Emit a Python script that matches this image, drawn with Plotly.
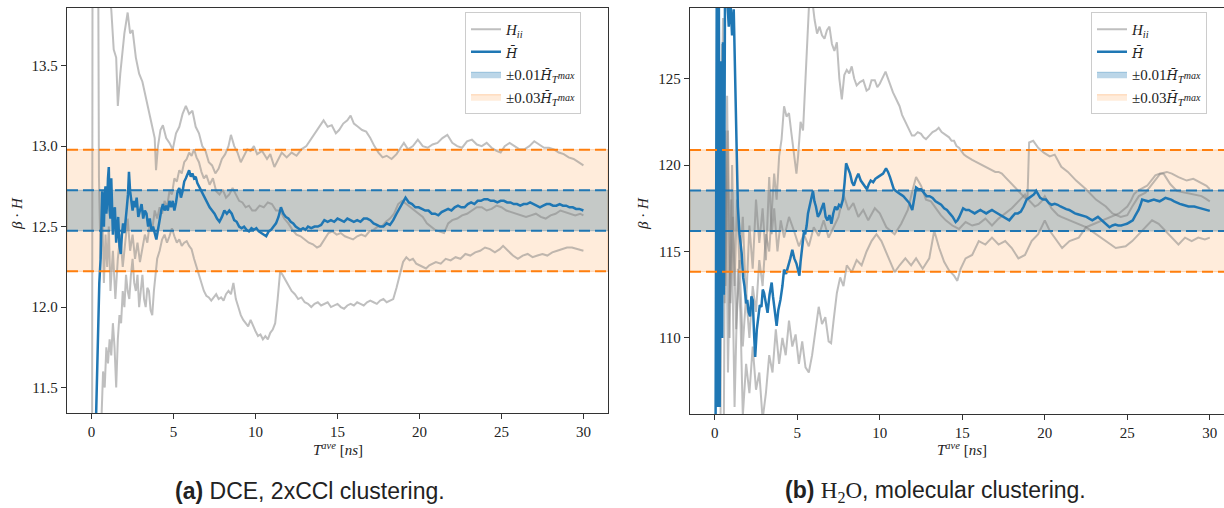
import plotly.graph_objects as go

# ---------------- data: panel (a) DCE ----------------
a_hbar_x = [0.15,0.25,0.32,0.4,0.47,0.55,0.6,0.65,0.7,0.75,0.8,0.85,0.9,0.95,1.0,1.05,1.1,1.15,1.2,1.25,1.3,1.35,1.42,1.5,1.56,1.62,1.7,1.78,1.85,1.92,2.0,2.08,2.15,2.22,2.28,2.35,2.42,2.5,2.58,2.66,2.75,2.85,2.95,3.05,3.15,3.25,3.35,3.45,3.55,3.65,3.75,3.85,3.95,4.05,4.15,4.25,4.35,4.45,4.55,4.65,4.75,4.85,4.95,5.05,5.15,5.25,5.35,5.45,5.55,5.65,5.75,5.85,5.95,6.05,6.15,6.25,6.35,6.45,6.6,6.75,6.9,7.05,7.2,7.35,7.5,7.65,7.8,7.95,8.1,8.25,8.4,8.55,8.7,8.85,9.0,9.15,9.3,9.45,9.6,9.75,9.9,10.05,10.2,10.35,10.5,10.65,10.8,10.95,11.1,11.25,11.4,11.55,11.7,11.85,12.0,12.15,12.3,12.45,12.6,12.75,12.9,13.05,13.2,13.4,13.6,13.8,14.0,14.2,14.4,14.6,14.8,15.0,15.2,15.4,15.6,15.8,16.0,16.2,16.4,16.6,16.8,17.0,17.2,17.4,17.6,17.8,18.0,18.2,18.4,18.6,18.8,19.0,19.15,19.35,19.55,19.75,19.95,20.15,20.35,20.55,20.75,20.95,21.15,21.35,21.55,21.75,21.95,22.15,22.35,22.55,22.75,22.95,23.15,23.35,23.55,23.75,23.95,24.15,24.35,24.55,24.75,24.95,25.15,25.35,25.55,25.75,25.95,26.15,26.35,26.55,26.75,26.95,27.15,27.35,27.55,27.75,27.95,28.15,28.35,28.55,28.75,28.95,29.15,29.35,29.55,29.75,30.0]
a_hbar_y = [10.8,11.2,11.5,11.9,12.15,12.3,12.55,12.72,12.6,12.5,12.7,12.75,12.58,12.65,12.8,12.87,12.6,12.55,12.8,12.62,12.45,12.58,12.62,12.4,12.52,12.56,12.38,12.33,12.45,12.52,12.46,12.58,12.62,12.7,12.84,12.72,12.65,12.6,12.66,12.62,12.68,12.56,12.6,12.64,12.55,12.6,12.58,12.5,12.55,12.48,12.5,12.45,12.42,12.48,12.55,12.6,12.64,12.6,12.63,12.6,12.66,12.62,12.66,12.6,12.65,12.72,12.74,12.68,12.72,12.78,12.8,12.83,12.85,12.81,12.83,12.8,12.81,12.77,12.74,12.7,12.67,12.64,12.62,12.6,12.58,12.55,12.53,12.56,12.6,12.58,12.6,12.58,12.54,12.53,12.5,12.49,12.5,12.48,12.47,12.49,12.48,12.49,12.47,12.46,12.45,12.44,12.47,12.48,12.5,12.52,12.56,12.62,12.58,12.56,12.55,12.53,12.52,12.5,12.49,12.48,12.49,12.48,12.5,12.49,12.5,12.5,12.51,12.54,12.53,12.54,12.53,12.55,12.54,12.53,12.55,12.54,12.53,12.54,12.53,12.55,12.55,12.54,12.52,12.51,12.5,12.5,12.52,12.51,12.54,12.58,12.62,12.66,12.68,12.65,12.64,12.62,12.62,12.61,12.6,12.6,12.58,12.58,12.57,12.59,12.6,12.61,12.6,12.62,12.63,12.62,12.62,12.64,12.65,12.64,12.66,12.66,12.67,12.67,12.66,12.66,12.65,12.66,12.66,12.65,12.65,12.64,12.64,12.63,12.64,12.64,12.65,12.64,12.63,12.62,12.63,12.64,12.64,12.63,12.63,12.64,12.63,12.63,12.62,12.62,12.61,12.61,12.60]

a_hii1_x = [0.03,0.06,0.3,0.9,1.2,1.35,1.5,1.6,1.75,2.0,2.2,2.35,2.5,2.7,2.9,3.1,3.3,3.5,3.7,3.85,3.93,4.05,4.2,4.35,4.55,4.75,4.95,5.15,5.35,5.55,5.75,5.95,6.15,6.35,6.55,6.75,6.95,7.15,7.35,7.55,7.75,7.95,8.15,8.35,8.5,8.7,8.9,9.1,9.3,9.5,9.7,9.9,10.1,10.4,10.7,10.9,11.15,11.4,11.6,11.9,12.2,12.5,12.8,13.1,13.35,13.6,13.85,14.15,14.4,14.65,14.9,15.1,15.35,15.6,15.8,16.0,16.25,16.5,16.75,17.0,17.25,17.5,17.75,18.0,18.3,18.6,18.85,19.05,19.3,19.6,19.9,20.2,20.5,20.8,21.1,21.4,21.7,22.0,22.3,22.6,22.9,23.2,23.5,23.8,24.1,24.4,24.7,24.95,25.2,25.5,25.8,26.1,26.4,26.7,27.0,27.3,27.6,27.9,28.2,28.5,28.8,29.1,29.4,29.7,30.0]
a_hii1_y = [11.0,14.5,14.3,14.0,13.85,13.6,13.55,13.25,13.45,13.7,13.83,13.7,13.72,13.55,13.45,13.4,13.3,13.2,13.12,13.05,12.85,13.0,13.1,13.13,13.05,13.02,12.98,13.08,13.12,13.2,13.25,13.2,13.22,13.12,13.08,13.0,12.97,12.9,12.88,12.83,12.86,12.92,12.95,13.0,13.07,13.0,12.96,12.9,12.94,12.98,12.97,13.0,12.95,12.97,12.92,12.95,12.87,12.92,12.96,12.93,12.96,12.94,12.98,13.0,13.04,13.08,13.12,13.16,13.12,13.13,13.08,13.1,13.14,13.16,13.19,13.14,13.12,13.1,13.09,13.05,13.0,12.96,12.93,12.94,12.92,12.95,12.99,13.02,12.98,13.0,13.04,13.0,12.99,13.01,13.02,13.05,13.07,13.02,13.0,12.99,13.03,13.04,13.01,13.0,13.02,12.99,12.97,12.96,13.0,13.02,13.0,12.98,12.98,13.0,13.03,13.01,12.99,12.99,12.98,12.96,12.95,12.93,12.92,12.9,12.88]

a_hii2_x = [0.4,0.45,0.55,0.65,0.75,0.85,0.95,1.05,1.15,1.3,1.45,1.6,1.75,1.9,2.05,2.2,2.35,2.5,2.65,2.8,2.95,3.1,3.25,3.4,3.55,3.7,3.85,4.0,4.15,4.3,4.45,4.6,4.75,4.9,5.05,5.2,5.35,5.5,5.65,5.8,5.95,6.1,6.25,6.4,6.55,6.7,6.85,7.0,7.2,7.4,7.6,7.8,8.0,8.2,8.4,8.6,8.8,9.0,9.2,9.4,9.6,9.8,10.0,10.25,10.5,10.75,11.0,11.25,11.5,11.75,12.0,12.25,12.5,12.75,13.0,13.25,13.5,13.75,13.95,14.2,14.45,14.7,14.95,15.2,15.45,15.7,15.95,16.2,16.45,16.7,16.95,17.2,17.45,17.7,17.95,18.2,18.45,18.7,18.95,19.2,19.45,19.7,19.95,20.2,20.45,20.7,20.95,21.2,21.5,21.75,22.0,22.3,22.6,22.9,23.2,23.5,23.8,24.1,24.4,24.7,25.0,25.3,25.6,25.9,26.2,26.5,26.8,27.1,27.4,27.7,28.0,28.3,28.6,28.9,29.2,29.5,29.8,30.0]
a_hii2_y = [14.2,12.8,12.3,12.6,12.15,12.45,12.25,12.5,12.1,12.35,12.05,12.3,12.45,12.25,12.4,12.55,12.35,12.45,12.3,12.4,12.28,12.38,12.45,12.4,12.52,12.48,12.6,12.55,12.62,12.58,12.66,12.62,12.72,12.7,12.8,12.78,12.85,12.83,12.9,12.92,12.96,12.94,12.98,12.93,12.9,12.84,12.8,12.82,12.76,12.8,12.72,12.7,12.73,12.68,12.7,12.74,12.7,12.66,12.65,12.62,12.63,12.6,12.6,12.63,12.62,12.65,12.64,12.6,12.6,12.55,12.52,12.48,12.45,12.44,12.42,12.4,12.39,12.37,12.38,12.42,12.46,12.47,12.45,12.46,12.44,12.43,12.42,12.44,12.45,12.44,12.47,12.48,12.5,12.5,12.53,12.55,12.58,12.64,12.66,12.64,12.62,12.6,12.58,12.56,12.52,12.5,12.48,12.47,12.46,12.52,12.54,12.55,12.57,12.58,12.6,12.62,12.62,12.6,12.61,12.63,12.62,12.6,12.59,12.58,12.57,12.56,12.57,12.58,12.56,12.55,12.57,12.58,12.6,12.59,12.58,12.57,12.58,12.57]

a_hii3_x = [0.5,0.6,0.7,0.8,0.9,1.0,1.1,1.2,1.3,1.4,1.5,1.6,1.7,1.8,1.9,2.0,2.1,2.2,2.3,2.4,2.5,2.6,2.7,2.8,2.9,3.0,3.1,3.2,3.3,3.4,3.5,3.6,3.7,3.8,3.9,4.0,4.15,4.3,4.45,4.6,4.75,4.9,5.05,5.2,5.35,5.5,5.65,5.8,5.95,6.1,6.25,6.4,6.55,6.7,6.85,7.0,7.15,7.3,7.45,7.6,7.75,7.9,8.05,8.2,8.35,8.5,8.65,8.8,8.95,9.1,9.25,9.4,9.55,9.7,9.85,10.0,10.15,10.3,10.45,10.6,10.75,10.9,11.05,11.2,11.35,11.5,11.65,11.8,12.0,12.2,12.4,12.6,12.8,13.0,13.2,13.4,13.6,13.8,14.0,14.2,14.4,14.6,14.8,15.0,15.2,15.4,15.6,15.8,16.0,16.2,16.4,16.6,16.8,17.0,17.2,17.4,17.6,17.8,18.0,18.2,18.4,18.6,18.8,19.0,19.2,19.4,19.6,19.8,20.0,20.2,20.4,20.6,20.8,21.0,21.3,21.6,21.9,22.2,22.5,22.8,23.1,23.4,23.7,24.0,24.3,24.6,24.9,25.1,25.4,25.7,26.0,26.3,26.6,26.9,27.2,27.5,27.8,28.1,28.4,28.7,29.0,29.3,29.6,30.0]
a_hii3_y = [11.0,11.35,11.6,11.5,11.75,11.65,11.8,11.7,11.9,11.75,11.5,11.8,11.95,11.9,12.1,12.0,12.2,12.1,12.05,12.2,12.3,12.15,12.1,12.2,12.0,12.1,12.2,12.05,12.0,12.12,12.1,11.98,11.95,12.1,12.2,12.3,12.35,12.42,12.45,12.4,12.44,12.49,12.44,12.4,12.42,12.38,12.4,12.41,12.38,12.36,12.3,12.25,12.2,12.15,12.1,12.07,12.06,12.04,12.06,12.08,12.05,12.06,12.04,12.08,12.1,12.08,12.15,12.05,12.0,11.95,11.92,11.9,11.88,11.92,11.88,11.85,11.82,11.83,11.8,11.82,11.8,11.84,11.86,11.9,12.05,12.22,12.2,12.17,12.14,12.1,12.08,12.05,12.06,12.03,12.02,12.0,12.02,12.03,12.01,12.02,12.03,12.0,12.01,12.02,12.0,11.99,12.01,12.02,12.01,12.03,12.02,12.01,12.03,12.04,12.03,12.02,12.04,12.05,12.03,12.04,12.05,12.12,12.2,12.28,12.31,12.29,12.3,12.27,12.26,12.25,12.24,12.26,12.27,12.28,12.27,12.3,12.29,12.31,12.3,12.33,12.32,12.34,12.35,12.37,12.36,12.34,12.36,12.38,12.35,12.32,12.3,12.32,12.33,12.31,12.32,12.33,12.32,12.34,12.35,12.36,12.37,12.37,12.36,12.35]

# ---------------- data: panel (b) H2O ----------------
b_hbar_x = [0.05,0.12,0.18,0.25,0.3,0.38,0.45,0.5,0.55,0.62,0.75,0.85,0.95,1.05,1.15,1.22,1.3,1.4,1.5,1.63,1.72,1.8,1.9,1.97,2.05,2.14,2.22,2.3,2.38,2.45,2.55,2.64,2.73,2.83,2.91,2.99,3.1,3.2,3.32,3.45,3.53,3.6,3.68,3.75,3.85,3.98,4.1,4.2,4.32,4.45,4.58,4.7,4.82,4.95,5.05,5.13,5.2,5.27,5.34,5.4,5.48,5.57,5.65,5.73,5.85,5.95,6.04,6.13,6.25,6.37,6.48,6.6,6.72,6.83,6.95,7.07,7.18,7.3,7.42,7.53,7.65,7.77,7.87,7.96,8.08,8.2,8.32,8.43,8.56,8.7,8.85,8.99,9.1,9.22,9.34,9.45,9.6,9.73,9.88,10.03,10.2,10.38,10.5,10.62,10.74,10.85,10.98,11.1,11.27,11.43,11.6,11.79,11.88,11.97,12.08,12.2,12.35,12.5,12.67,12.84,13.02,13.2,13.38,13.55,13.72,13.9,14.07,14.24,14.42,14.6,14.71,14.82,14.94,15.05,15.22,15.4,15.57,15.75,15.92,16.1,16.27,16.45,16.62,16.8,16.97,17.15,17.32,17.5,17.67,17.85,18.02,18.2,18.37,18.55,18.72,18.9,19.05,19.2,19.34,19.48,19.6,19.72,19.9,20.07,20.25,20.42,20.6,20.78,20.95,21.13,21.3,21.48,21.65,21.83,22.0,22.18,22.35,22.53,22.7,22.88,23.05,23.22,23.4,23.57,23.75,23.92,24.1,24.27,24.45,24.63,24.8,24.98,25.15,25.33,25.5,25.68,25.8,25.9,26.08,26.26,26.43,26.61,26.78,26.96,27.14,27.31,27.48,27.66,27.84,28.01,28.18,28.36,28.54,28.71,28.89,29.06,29.24,29.41,29.58,29.76,30.0]
b_hbar_y = [105.0,129.5,106.0,129.5,106.0,126.0,110.0,127.1,112.5,129.5,129.7,128.0,129.5,127.5,129.0,125.7,121.0,117.6,116.0,114.9,113.5,113.0,112.0,112.2,111.5,111.25,112.4,112.2,110.3,108.9,110.5,111.06,111.9,111.8,112.8,112.6,111.9,111.45,112.5,113.2,112.4,111.8,111.2,110.7,111.6,112.2,113.0,113.95,113.7,114.1,114.6,115.1,114.6,114.3,113.9,113.6,114.4,114.9,115.7,116.1,116.0,116.5,117.2,117.6,118.2,118.5,117.9,117.6,117.0,117.2,117.5,117.8,117.0,116.8,117.1,116.6,117.2,117.6,117.4,117.7,117.6,118.0,119.0,120.1,119.8,119.5,119.0,118.8,119.2,119.5,119.1,118.9,118.7,118.6,118.9,119.1,119.0,119.2,119.3,119.4,119.5,119.8,119.6,119.3,118.9,118.6,118.5,118.4,118.3,118.2,118.0,117.8,117.6,117.4,118.0,118.7,118.6,118.6,118.4,118.2,118.2,118.1,117.9,117.8,117.7,117.5,117.4,117.2,117.0,116.7,116.8,117.0,117.3,117.5,117.4,117.4,117.3,117.2,117.3,117.4,117.3,117.2,117.3,117.4,117.3,117.2,117.1,117.0,116.9,116.8,117.0,117.2,117.2,117.3,117.6,118.0,118.1,118.2,118.3,118.5,118.3,118.1,118.0,118.0,117.8,117.7,117.75,117.7,117.6,117.5,117.45,117.4,117.3,117.2,117.15,117.1,117.05,117.0,116.9,116.8,116.9,117.0,116.85,116.7,116.55,116.4,116.5,116.55,116.5,116.5,116.55,116.6,116.7,116.8,117.1,117.4,117.7,118.0,117.95,117.9,117.95,118.0,117.95,117.9,118.0,118.1,118.05,118.0,117.9,117.8,117.75,117.7,117.65,117.6,117.6,117.6,117.55,117.5,117.45,117.4,117.35]

b_hii1_x = [0.15,0.22,0.35,0.5,0.65,0.8,0.95,1.1,1.3,1.5,1.7,1.9,2.1,2.3,2.5,2.7,2.9,3.1,3.3,3.45,3.6,3.75,3.9,4.05,4.2,4.35,4.5,4.65,4.8,4.95,5.05,5.2,5.35,5.45,5.55,5.65,5.75,5.9,6.05,6.2,6.35,6.5,6.65,6.8,6.95,7.1,7.25,7.4,7.55,7.7,7.85,8.0,8.15,8.3,8.45,8.6,8.8,9.0,9.2,9.35,9.5,9.7,9.85,10.0,10.2,10.35,10.5,10.65,10.8,11.0,11.2,11.35,11.5,11.65,11.8,11.95,12.1,12.3,12.5,12.65,12.8,13.0,13.2,13.4,13.57,13.75,13.9,14.05,14.2,14.35,14.5,14.65,14.8,14.95,15.1,15.25,15.4,15.6,15.8,16.0,16.2,16.4,16.6,16.8,17.0,17.2,17.4,17.6,17.8,18.0,18.2,18.4,18.6,18.8,19.0,19.2,19.4,19.6,19.8,20.0,20.2,20.4,20.6,20.8,21.0,21.25,21.5,21.75,22.0,22.25,22.5,22.75,23.0,23.25,23.5,23.75,24.0,24.25,24.5,24.75,25.0,25.2,25.4,25.6,25.8,26.0,26.2,26.45,26.7,26.95,27.2,27.4,27.6,27.8,28.0,28.25,28.5,28.75,29.0,29.25,29.5,29.75,30.0]
b_hii1_y = [106.0,129.8,118.0,128.5,113.0,122.0,112.0,117.0,110.5,114.5,109.5,112.5,110.0,113.0,111.5,114.5,113.0,116.0,115.0,117.5,119.5,118.0,120.5,121.5,123.4,122.8,123.0,121.8,120.8,119.5,120.5,122.5,122.0,124.0,125.5,127.5,130.0,129.6,128.4,127.6,128.0,127.5,127.3,127.8,128.0,127.0,126.6,127.1,125.0,123.8,125.2,125.5,125.3,125.7,125.0,124.6,124.8,124.9,124.3,124.4,124.9,124.9,124.5,124.7,125.1,125.4,125.0,124.6,124.2,123.8,123.4,122.9,122.6,122.2,122.0,121.7,121.7,121.9,121.8,121.6,121.5,121.7,121.9,122.0,122.15,121.9,121.8,121.7,121.6,121.4,121.4,121.1,121.0,120.8,120.6,120.5,120.4,120.3,120.2,120.1,120.0,119.9,119.8,119.7,119.6,119.6,119.5,119.3,119.1,118.9,118.7,118.5,118.3,118.1,118.0,117.8,117.6,117.7,117.9,118.2,117.8,117.5,117.3,117.1,117.0,116.9,116.8,116.7,116.6,116.5,116.4,116.5,116.6,116.7,116.8,116.9,117.0,117.1,117.2,117.4,117.6,117.9,118.3,118.5,118.6,118.7,118.8,119.1,119.4,119.5,119.5,119.2,118.9,118.7,118.5,118.45,118.4,118.35,118.3,118.25,118.2,118.05,117.9]

b_hii2_x = [0.35,0.45,0.6,0.75,0.9,1.05,1.2,1.35,1.5,1.7,1.9,2.1,2.3,2.5,2.7,2.9,3.1,3.3,3.45,3.6,3.8,4.0,4.2,4.5,4.8,5.1,5.4,5.7,6.0,6.3,6.6,6.9,7.2,7.5,7.8,8.1,8.4,8.7,9.0,9.3,9.7,10.0,10.4,10.9,11.3,11.7,12.0,12.2,12.5,12.8,13.1,13.4,13.7,14.0,14.4,14.8,15.2,15.6,16.0,16.4,16.8,17.2,17.6,18.0,18.4,18.8,18.95,19.05,19.3,19.6,19.96,20.3,20.6,21.0,21.4,21.9,22.5,23.1,23.7,24.1,24.6,25.0,25.3,25.7,26.1,26.5,27.0,27.4,27.7,28.1,28.6,29.0,29.4,29.8,30.0]
b_hii2_y = [105.0,127.0,112.0,124.0,110.0,120.0,113.0,118.0,114.0,117.0,112.0,116.5,114.0,118.0,115.5,117.5,114.5,119.3,116.0,117.5,115.0,116.8,115.8,117.0,116.2,115.3,116.0,115.3,116.4,115.9,116.8,115.8,116.4,117.0,118.3,117.4,117.8,117.0,117.4,116.8,117.5,117.2,116.4,116.0,116.6,117.4,118.6,119.3,118.8,118.0,117.9,117.5,117.1,116.8,116.5,116.3,116.7,116.5,116.6,116.9,116.5,116.9,117.2,117.5,117.9,118.3,118.0,121.3,121.4,121.0,120.7,120.5,120.6,119.9,119.6,119.1,118.6,118.0,117.6,117.2,117.0,117.1,117.6,118.2,118.4,118.9,119.5,119.6,119.5,119.3,119.1,119.2,119.0,118.8,118.6]

b_hii3_x = [0.55,0.65,0.8,1.0,1.2,1.4,1.55,1.7,1.9,2.1,2.3,2.5,2.7,2.9,3.1,3.3,3.5,3.7,3.9,4.1,4.3,4.5,4.7,4.9,5.1,5.3,5.5,5.7,5.9,6.1,6.3,6.5,6.7,6.9,7.05,7.2,7.4,7.6,7.8,8.0,8.3,8.6,8.9,9.2,9.5,9.8,10.1,10.5,10.9,11.2,11.55,11.9,12.2,12.6,13.0,13.3,13.6,13.9,14.2,14.5,14.7,14.9,15.2,15.6,16.0,16.4,16.8,17.2,17.6,18.0,18.4,18.8,19.2,19.6,20.0,20.3,20.6,21.05,21.5,22.06,22.5,23.1,23.7,24.3,24.9,25.3,25.7,26.1,26.5,26.9,27.3,27.7,28.1,28.5,28.9,29.3,29.7,30.0]
b_hii3_y = [105.0,122.0,108.0,118.0,106.0,114.0,111.5,105.5,108.5,106.8,109.5,107.0,108.0,105.3,106.8,109.0,108.0,110.5,108.5,110.0,109.0,111.0,109.5,110.2,108.5,109.8,108.3,108.0,109.0,110.5,111.8,110.8,111.2,109.8,109.7,111.0,112.6,113.5,113.0,114.2,113.8,114.5,114.2,115.0,115.6,116.0,115.6,114.7,113.8,114.2,114.6,114.2,114.6,114.0,114.6,116.2,115.2,114.4,113.9,113.6,113.3,114.0,114.6,114.8,115.6,115.4,115.8,115.4,115.6,115.2,114.6,114.8,115.6,116.0,116.8,116.2,115.8,115.2,115.6,115.8,116.4,116.0,115.6,115.2,115.3,115.6,116.0,116.4,116.8,116.6,116.2,115.8,115.4,115.8,115.6,115.8,115.7,115.8]

x_ticks = [0, 5, 10, 15, 20, 25, 30]
a_y_ticks = [11.5, 12.0, 12.5, 13.0, 13.5]
b_y_ticks = [110, 115, 120, 125]
band_fracs = [0.01, 0.03]

# ---------------- layout helpers ----------------
W, H = 1224, 508
def fx(p):
    return p / W
def fy(p):
    return 1 - p / H

BLUE = "#1f77b4"
ORANGE = "#ff7f0e"
GREY = "rgba(128,128,128,0.5)"
SERIF = "Liberation Serif"
HBAR = "<span style=\"font-family:DejaVu Serif;font-size:13px\"><i>H̄</i></span>"
TMAX = "<sub><i>T</i><sup><span style=\"font-size:10px\"><i>max</i></span></sup></sub>"

panels = [
    dict(xa="x", ya="y", xk="xaxis", yk="yaxis", leg="legend",
         hbar=(a_hbar_x, a_hbar_y),
         hii=[(a_hii1_x, a_hii1_y), (a_hii2_x, a_hii2_y), (a_hii3_x, a_hii3_y)],
         xr=[-1.5, 31.5], yr=[11.342, 13.858], yt=a_y_ticks, ytf=".1f",
         dom_x=[fx(67), fx(608)], dom_y=[fy(413), fy(8)]),
    dict(xa="x2", ya="y2", xk="xaxis2", yk="yaxis2", leg="legend2",
         hbar=(b_hbar_x, b_hbar_y),
         hii=[(b_hii1_x, b_hii1_y), (b_hii2_x, b_hii2_y), (b_hii3_x, b_hii3_y)],
         xr=[-1.5, 30.86], yr=[105.6, 129.08], yt=b_y_ticks, ytf="d",
         dom_x=[fx(690), 1.0], dom_y=[fy(414), fy(8)]),
]

fig = go.Figure()
shapes = []
band_style = {
    0.01: dict(fill="rgba(31,119,180,0.3)", line="rgba(31,119,180,0.35)", dash=BLUE, rank=3),
    0.03: dict(fill="rgba(255,127,14,0.15)", line="rgba(255,127,14,0.3)", dash=ORANGE, rank=4),
}

for p in panels:
    ref = p["hbar"][1][-1]
    x0, x1 = p["xr"][0], 31.5
    for frac in sorted(band_fracs):
        st = band_style[frac]
        lo, hi = ref * (1 - frac), ref * (1 + frac)
        fig.add_trace(go.Scatter(
            x=[x0, x1, x1, x0, x0], y=[lo, lo, hi, hi, lo],
            mode="lines", fill="toself", fillcolor=st["fill"],
            line=dict(color=st["line"], width=1),
            name="±%.2f%s%s" % (frac, HBAR, TMAX),
            legendrank=st["rank"], xaxis=p["xa"], yaxis=p["ya"],
            legend=p["leg"], hoverinfo="skip"))
        for yv in (lo, hi):
            shapes.append(dict(type="line", xref=p["xa"] + " domain", yref=p["ya"],
                               x0=0, x1=1, y0=yv, y1=yv, layer="above",
                               line=dict(color=st["dash"], width=2, dash="11px,5px")))
    for i, (hx, hy) in enumerate(p["hii"]):
        fig.add_trace(go.Scatter(
            x=hx, y=hy, mode="lines", line=dict(color=GREY, width=2),
            name="<i>H</i><sub><i>ii</i></sub>", showlegend=(i == 0),
            legendrank=1, xaxis=p["xa"], yaxis=p["ya"], legend=p["leg"]))
    fig.add_trace(go.Scatter(
        x=p["hbar"][0], y=p["hbar"][1], mode="lines",
        line=dict(color=BLUE, width=2.5), name=HBAR,
        legendrank=2, xaxis=p["xa"], yaxis=p["ya"], legend=p["leg"]))

axis_common = dict(showline=True, linecolor="#333333", linewidth=1.3, ticks="outside",
                   ticklen=5, tickwidth=1.1, tickcolor="#333333", showgrid=False,
                   zeroline=False, tickfont=dict(family=SERIF, size=15, color="#222222"))

layout = dict(width=W, height=H, margin=dict(l=0, r=0, t=0, b=0),
              paper_bgcolor="white", plot_bgcolor="white", shapes=shapes,
              font=dict(family=SERIF, size=14, color="#222222"))

for p in panels:
    layout[p["xk"]] = dict(axis_common, domain=p["dom_x"], range=p["xr"], tickvals=x_ticks,
                           mirror=True, anchor=p["ya"])
    layout[p["yk"]] = dict(axis_common, domain=p["dom_y"], range=p["yr"], tickvals=p["yt"],
                           tickformat=p["ytf"], mirror=(p["yk"] == "yaxis"), anchor=p["xa"])

leg_common = dict(font=dict(family=SERIF, size=15, color="#222222"),
                  bgcolor="rgba(255,255,255,0.85)", bordercolor="#cccccc", borderwidth=1,
                  xanchor="left", yanchor="top", tracegroupgap=0)
layout["legend"] = dict(leg_common, x=fx(465), y=fy(12))
layout["legend2"] = dict(leg_common, x=fx(1091), y=fy(12))

fig.update_layout(**layout)

annots = []
def note(text, cx, cy, size, family=SERIF, angle=0):
    annots.append(dict(text=text, x=fx(cx), y=fy(cy), xref="paper", yref="paper",
                       xanchor="center", yanchor="middle", showarrow=False, textangle=angle,
                       font=dict(family=family, size=size, color="#222222")))

for cx in (337.5, 962):
    note("<i>T</i><sup><i>ave</i></sup> [<i>ns</i>]", cx, 449, 15)
for cx in (17, 643):
    note("<i>β</i> · <i>H</i>", cx, 214, 15, angle=-90)
note("<b>(a)</b> DCE, 2xCCl clustering.", 310, 491, 23, family="Liberation Sans")
note("<b>(b)</b> <span style=\"font-family:Liberation Serif\">H<sub>2</sub>O</span>, molecular clustering.",
     936, 491, 23, family="Liberation Sans")
fig.update_layout(annotations=annots)

fig.write_html("out.html", config={"displayModeBar": False},
               post_script="document.body.style.margin='0px';")
